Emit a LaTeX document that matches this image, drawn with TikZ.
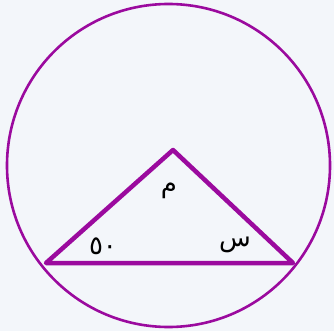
\documentclass[tikz,border=0pt]{standalone}
\usepackage{fontspec}
\newfontfamily\arabicfont[Script=Arabic]{DejaVu Sans}
\TeXXeTstate=1
\usepackage{tikz}
\definecolor{bgcol}{HTML}{F3F6FA}
\definecolor{purp}{HTML}{9B0A9E}

\begin{document}
\begin{tikzpicture}[x=1pt,y=-1pt,every node/.style={font=\arabicfont\fontsize{26}{30}\selectfont,inner sep=0pt},
  side/.style={draw=purp,line width=4.5pt,line join=round,line cap=round}]
  \fill[bgcol] (0,0) rectangle (334,331);
  \useasboundingbox (0,0) rectangle (334,331);
  \draw[purp,line width=2.6pt] (168.5,165.5) circle[radius=161.5pt];
  \coordinate (B) at (46,263);
  \coordinate (A) at (173,150);
  \coordinate (C) at (293,263);
  \draw[side] (B) -- (A) -- (C) -- cycle;
  \node (m) at (169,191) {\beginR م\endR};
  \node (fifty) at (103,246) {\beginR ٥٠\endR};
  \node (s) at (235,245) {\beginR س\endR};
\end{tikzpicture}
\end{document}
